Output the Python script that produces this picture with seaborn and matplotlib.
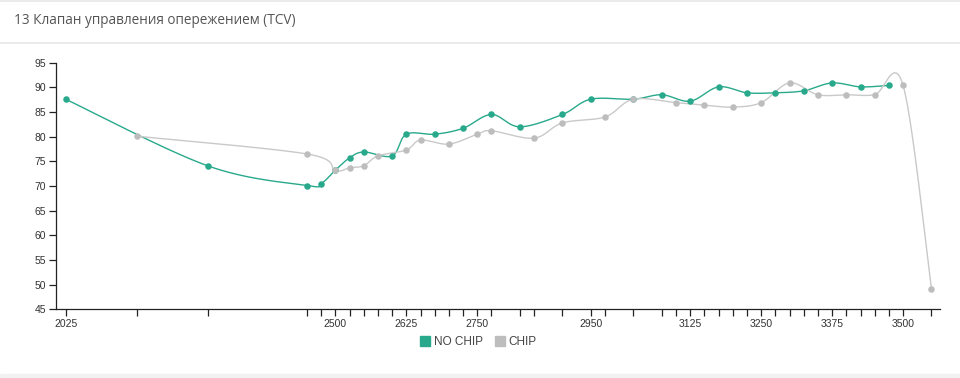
import numpy as np
import matplotlib
matplotlib.use("Agg")
import matplotlib.pyplot as plt
from matplotlib.lines import Line2D
import seaborn as sns
import pandas as pd

title = "13 Клапан управления опережением (TCV)"
series_names = ["NO CHIP", "CHIP"]

nochip_x = [2025, 2275, 2450, 2475, 2500, 2525, 2550, 2600, 2625, 2675, 2725, 2775,
            2825, 2900, 2950, 3025, 3075, 3125, 3175, 3225, 3275, 3325, 3375, 3425, 3475]
nochip_y = [87.6, 74.1, 70.1, 70.5, 73.2, 75.7, 76.9, 76.1, 80.5, 80.5, 81.7, 84.5,
            82.0, 84.5, 87.6, 87.6, 88.5, 87.2, 90.1, 88.9, 88.9, 89.3, 90.9, 90.1, 90.4]
chip_x = [2150, 2450, 2500, 2525, 2550, 2575, 2625, 2650, 2700, 2750, 2775, 2850,
          2900, 2975, 3025, 3100, 3150, 3200, 3250, 3300, 3350, 3400, 3450, 3500, 3550]
chip_y = [80.1, 76.5, 73.2, 73.7, 74.1, 76.1, 77.3, 79.3, 78.5, 80.5, 81.2, 79.7,
          82.8, 84.0, 87.6, 86.9, 86.4, 86.0, 86.9, 90.9, 88.5, 88.5, 88.5, 90.4, 49.1]
y_ticks = [45, 50, 55, 60, 65, 70, 75, 80, 85, 90, 95]

GREEN = "#29a98b"
GRAY = "#bdbdbd"
GRAY_LINE = "#c9c9c9"


def catmull_rom(xs, ys, n=40):
    P = np.column_stack([xs, ys]).astype(float)
    k = len(P)
    out = []
    for i in range(k - 1):
        p0 = P[i - 1] if i > 0 else P[i]
        p1 = P[i]
        p2 = P[i + 1]
        p3 = P[i + 2] if i + 2 < k else P[i + 1]
        m1 = (p2 - p0) / 2.0
        m2 = (p3 - p1) / 2.0
        t = np.linspace(0, 1, n)[:, None]
        h00 = 2 * t**3 - 3 * t**2 + 1
        h10 = t**3 - 2 * t**2 + t
        h01 = -2 * t**3 + 3 * t**2
        h11 = t**3 - t**2
        seg = h00 * p1 + h10 * m1 + h01 * p2 + h11 * m2
        out.append(seg if i == 0 else seg[1:])
    return np.vstack(out)


sns.set_theme(style="white")
plt.rcParams["font.family"] = ["Liberation Sans", "DejaVu Sans"]

fig = plt.figure(figsize=(9.6, 3.78), dpi=100)
ax = fig.add_axes([56 / 960, 1 - 309.3 / 378, (940 - 56) / 960, (309.3 - 62.7) / 378])

for xs, ys, lc, mc in [(nochip_x, nochip_y, GREEN, GREEN), (chip_x, chip_y, GRAY_LINE, GRAY)]:
    c = catmull_rom(xs, ys)
    sns.lineplot(x=c[:, 0], y=c[:, 1], ax=ax, color=lc, linewidth=1.0, sort=False,
                 estimator=None, legend=False)
for xs, ys, mc in [(nochip_x, nochip_y, GREEN), (chip_x, chip_y, GRAY)]:
    sns.scatterplot(x=xs, y=ys, ax=ax, color=mc, s=22, linewidth=0, legend=False, zorder=5)

ax.set_xlim(2008, 3565)
ax.set_ylim(45, 95)
all_x = sorted(set(nochip_x) | set(chip_x))
ax.set_xticks(all_x)
ax.set_xticklabels([str(v) if i % 5 == 0 else "" for i, v in enumerate(all_x)])
ax.set_yticks(y_ticks)
ax.tick_params(axis="both", direction="out", length=5, width=0.9, color="#222222",
               labelsize=7.5, labelcolor="#333333", pad=2, bottom=True, left=True)
for s in ["top", "right"]:
    ax.spines[s].set_visible(False)
for s in ["left", "bottom"]:
    ax.spines[s].set_color("#222222")
    ax.spines[s].set_linewidth(0.9)
ax.grid(False)
ax.set_xlabel("")
ax.set_ylabel("")

handles = [Line2D([], [], marker="s", linestyle="", color=GREEN, markersize=7.5),
           Line2D([], [], marker="s", linestyle="", color=GRAY, markersize=7.5)]
fig.legend(handles, series_names, loc="center", bbox_to_anchor=(0.498, 1 - 342 / 378),
           ncol=2, frameon=False, fontsize=8.5, handletextpad=0.2, columnspacing=1.0,
           labelcolor="#444444", handlelength=1.0)

fig.text(14 / 960, 1 - 20 / 378, title, ha="left", va="center", fontsize=9.8,
         color="#555555", family=["Open Sans", "DejaVu Sans"])

fig.add_artist(Line2D([0, 1], [1 - 1 / 378, 1 - 1 / 378], color="#e8e8e8", linewidth=1.2))
fig.add_artist(Line2D([0, 1], [1 - 43 / 378, 1 - 43 / 378], color="#e8e8e8", linewidth=1.2))
fig.patches.append(plt.Rectangle((0, 0), 1, 4.5 / 378, transform=fig.transFigure,
                                 color="#f2f2f2", zorder=0))

fig.savefig("out.png", dpi=100, facecolor="white")
